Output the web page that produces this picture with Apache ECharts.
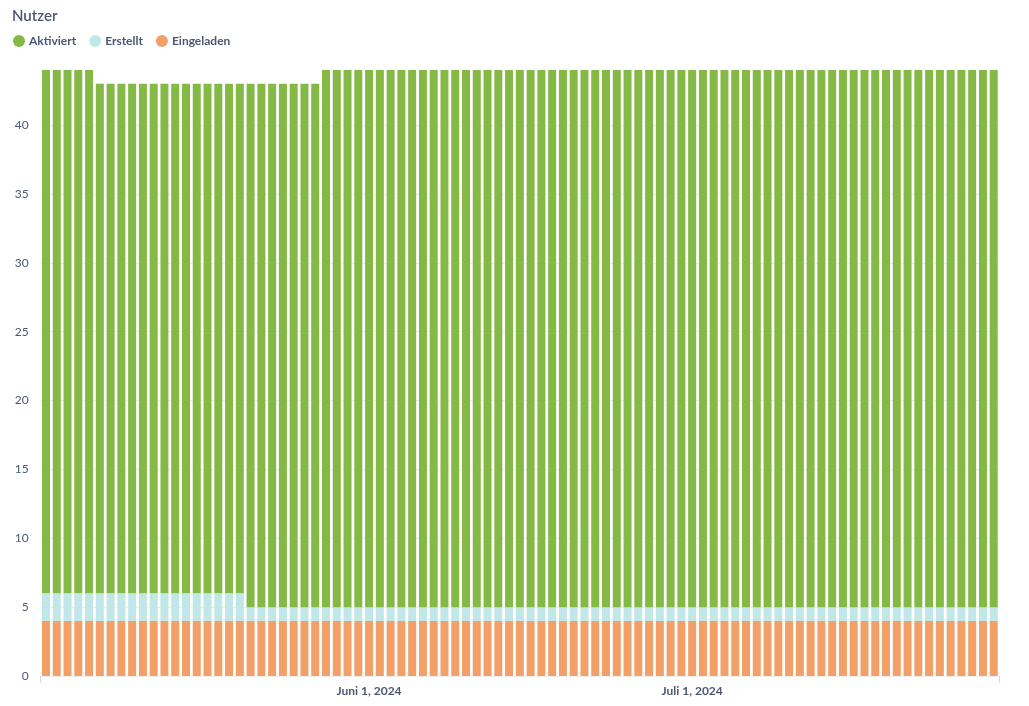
<!DOCTYPE html>
<html>
<head>
<meta charset="utf-8">
<script src="https://cdn.jsdelivr.net/npm/echarts@6/dist/echarts.min.js"></script>
<style>
html,body{margin:0;padding:0;background:#fff;}
#chart{width:1029px;height:706px;}
</style>
</head>
<body>
<div id="chart"></div>
<script>
var dates = [
"2024-05-02","2024-05-03","2024-05-04","2024-05-05","2024-05-06","2024-05-07","2024-05-08","2024-05-09","2024-05-10","2024-05-11",
"2024-05-12","2024-05-13","2024-05-14","2024-05-15","2024-05-16","2024-05-17","2024-05-18","2024-05-19","2024-05-20","2024-05-21",
"2024-05-22","2024-05-23","2024-05-24","2024-05-25","2024-05-26","2024-05-27","2024-05-28","2024-05-29","2024-05-30","2024-05-31",
"2024-06-01","2024-06-02","2024-06-03","2024-06-04","2024-06-05","2024-06-06","2024-06-07","2024-06-08","2024-06-09","2024-06-10",
"2024-06-11","2024-06-12","2024-06-13","2024-06-14","2024-06-15","2024-06-16","2024-06-17","2024-06-18","2024-06-19","2024-06-20",
"2024-06-21","2024-06-22","2024-06-23","2024-06-24","2024-06-25","2024-06-26","2024-06-27","2024-06-28","2024-06-29","2024-06-30",
"2024-07-01","2024-07-02","2024-07-03","2024-07-04","2024-07-05","2024-07-06","2024-07-07","2024-07-08","2024-07-09","2024-07-10",
"2024-07-11","2024-07-12","2024-07-13","2024-07-14","2024-07-15","2024-07-16","2024-07-17","2024-07-18","2024-07-19","2024-07-20",
"2024-07-21","2024-07-22","2024-07-23","2024-07-24","2024-07-25","2024-07-26","2024-07-27","2024-07-28","2024-07-29"
];
var eingeladen = [
4,4,4,4,4,4,4,4,4,4, 4,4,4,4,4,4,4,4,4,4, 4,4,4,4,4,4,4,4,4,4,
4,4,4,4,4,4,4,4,4,4, 4,4,4,4,4,4,4,4,4,4, 4,4,4,4,4,4,4,4,4,4,
4,4,4,4,4,4,4,4,4,4, 4,4,4,4,4,4,4,4,4,4, 4,4,4,4,4,4,4,4,4
];
var erstellt = [
2,2,2,2,2,2,2,2,2,2, 2,2,2,2,2,2,2,2,2,1, 1,1,1,1,1,1,1,1,1,1,
1,1,1,1,1,1,1,1,1,1, 1,1,1,1,1,1,1,1,1,1, 1,1,1,1,1,1,1,1,1,1,
1,1,1,1,1,1,1,1,1,1, 1,1,1,1,1,1,1,1,1,1, 1,1,1,1,1,1,1,1,1
];
var aktiviert = [
38,38,38,38,38,37,37,37,37,37, 37,37,37,37,37,37,37,37,37,38, 38,38,38,38,38,38,39,39,39,39,
39,39,39,39,39,39,39,39,39,39, 39,39,39,39,39,39,39,39,39,39, 39,39,39,39,39,39,39,39,39,39,
39,39,39,39,39,39,39,39,39,39, 39,39,39,39,39,39,39,39,39,39, 39,39,39,39,39,39,39,39,39
];
var seriesNames = ["Aktiviert","Erstellt","Eingeladen"];
var monthNames = ["Januar","Februar","März","April","Mai","Juni","Juli","August","September","Oktober","November","Dezember"];
var labelDates = ["2024-06-01","2024-07-01"];

var textColor = "#4c5773";
var font = "Lato, 'Noto Sans', sans-serif";

var chart = echarts.init(document.getElementById('chart'), null, {renderer:'canvas'});
chart.setOption({
  animation:false,
  textStyle:{fontFamily:font},
  title:{
    text:"Nutzer", left:7, top:4,
    textStyle:{fontFamily:font, fontSize:15, fontWeight:600, color:textColor}
  },
  legend:{
    data:seriesNames, left:8, top:30, icon:'circle',
    itemWidth:12, itemHeight:12, itemGap:13,
    textStyle:{fontFamily:font, fontSize:12, fontWeight:'bold', color:textColor, padding:[0,0,0,-1]}
  },
  grid:{left:40.6, right:29.9, top:70, bottom:30, containLabel:false},
  xAxis:{
    type:'category', data:dates, boundaryGap:true,
    axisLine:{show:false},
    axisTick:{show:true, length:7, lineStyle:{color:'#d5d8dd'},
      interval:function(i){ return i===0 || i===dates.length; }},
    axisLabel:{
      interval:function(i, v){ return labelDates.indexOf(v) >= 0; },
      formatter:function(v){ var p=v.split('-'); return monthNames[+p[1]-1]+' '+(+p[2])+', '+p[0]; },
      color:textColor, fontFamily:font, fontSize:12, fontWeight:'bold', margin:9
    }
  },
  yAxis:{
    type:'value', min:0, max:44, interval:5,
    axisLine:{show:false}, axisTick:{show:false},
    axisLabel:{color:textColor, fontFamily:font, fontSize:12, margin:12, showMaxLabel:false},
    splitLine:{show:true, showMaxLine:false, lineStyle:{color:'#eceef0'}}
  },
  series:[
    {name:"Eingeladen", type:'bar', stack:'s', data:eingeladen, barCategoryGap:'25.7%', itemStyle:{color:'#f2a068'}},
    {name:"Erstellt", type:'bar', stack:'s', data:erstellt, barCategoryGap:'25.7%', itemStyle:{color:'#c1e7e8'}},
    {name:"Aktiviert", type:'bar', stack:'s', data:aktiviert, barCategoryGap:'25.7%', itemStyle:{color:'#84b946'}}
  ],
  color:['#f2a068','#c1e7e8','#84b946']
});
</script>
</body>
</html>
